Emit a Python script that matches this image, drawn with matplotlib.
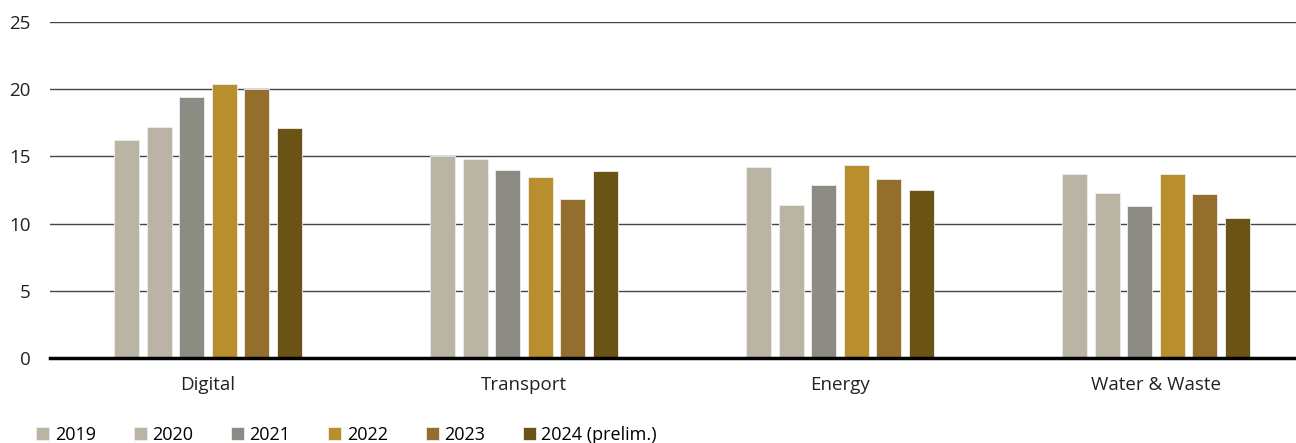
import numpy as np
import matplotlib.pyplot as plt

# Categories and yearly values
categories = ['Digital', 'Transport', 'Energy', 'Water & Waste']
years = ['2019', '2020', '2021', '2022', '2023', '2024 (prelim.)']
values = {
    '2019': [16.2, 15.0, 14.2, 13.7],
    '2020': [17.2, 14.8, 11.4, 12.3],
    '2021': [19.4, 14.0, 12.9, 11.3],
    '2022': [20.4, 13.5, 14.4, 13.7],
    '2023': [20.0, 11.8, 13.3, 12.2],
    '2024 (prelim.)': [17.1, 13.9, 12.5, 10.4],
}
colors = ['#BAB4A5', '#BAB4A5', '#8C8C84', '#B98F2E', '#936E2D', '#6B5316']

plt.rcParams['font.family'] = ['Open Sans', 'DejaVu Sans']

fig = plt.figure(figsize=(12.96, 4.43), dpi=100)
ax = fig.add_axes([0.0386, 0.192, 0.9614, 0.758])

x = np.arange(len(categories))
step = 0.103
width = 0.08
for i, yr in enumerate(years):
    offset = (i - 2.5) * step
    ax.bar(x + offset, values[yr], width, color=colors[i], label=yr,
           edgecolor='#EEEEEE', linewidth=0.6, zorder=3)

ax.set_ylim(0, 25)
ax.set_xlim(-0.5, 3.443)
ax.set_yticks([0, 5, 10, 15, 20, 25])
ax.yaxis.grid(True, color='#444444', linewidth=1.0, zorder=0)
ax.set_axisbelow(True)
for s in ['top', 'right', 'left']:
    ax.spines[s].set_visible(False)
ax.spines['bottom'].set_linewidth(2.5)
ax.spines['bottom'].set_color('black')
ax.spines['bottom'].set_zorder(4)

ax.set_xticks(x)
ax.set_xticklabels(categories)
ax.tick_params(axis='both', length=0, labelsize=13.5, colors='#222222')
ax.tick_params(axis='y', pad=14)
ax.tick_params(axis='x', pad=13)

fig.legend(loc='center left', bbox_to_anchor=(0.028, 0.018), ncol=6,
           frameon=False, fontsize=13, handlelength=0.72, handleheight=0.72,
           handletextpad=0.3, columnspacing=2.1, borderaxespad=0, borderpad=0)

plt.savefig('out.png', dpi=100)
